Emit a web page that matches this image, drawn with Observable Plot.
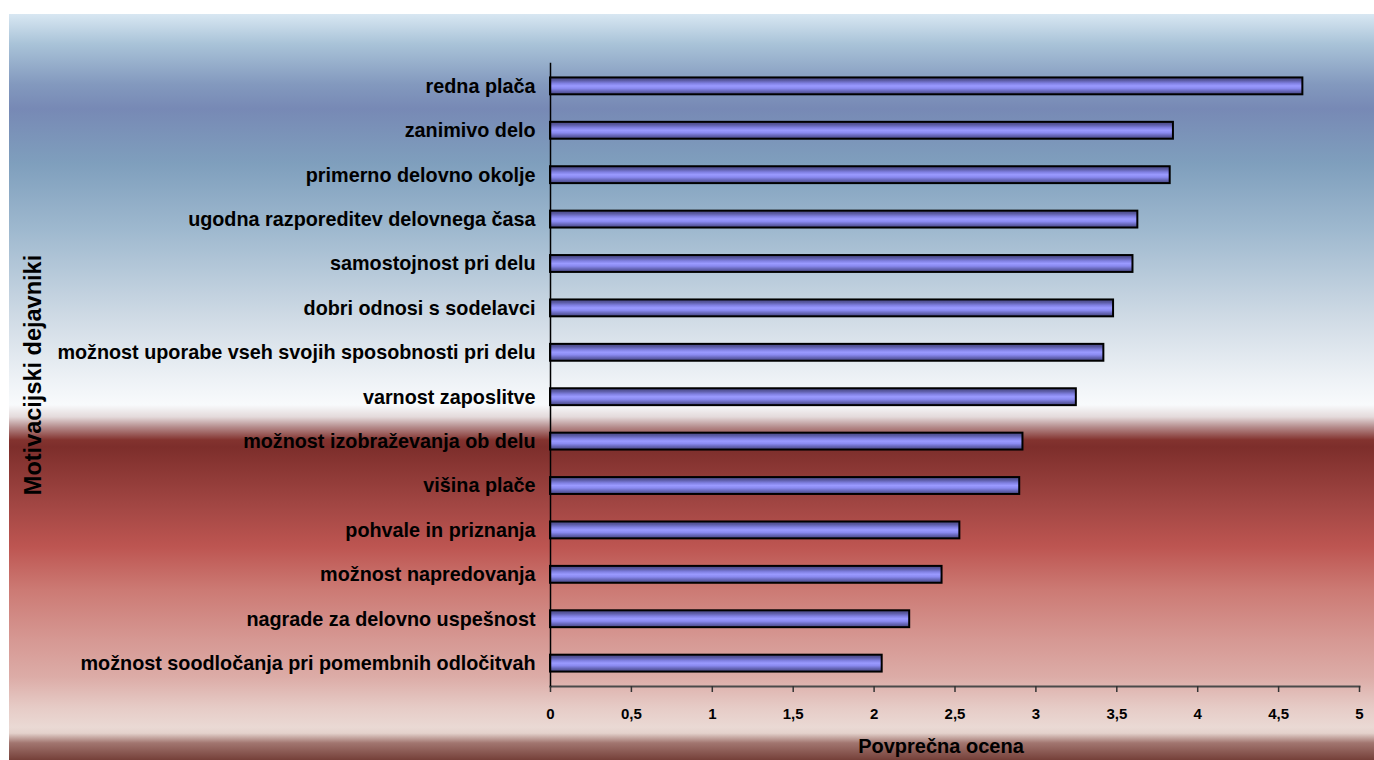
<!DOCTYPE html>
<html>
<head>
<meta charset="utf-8">
<script src="https://cdn.jsdelivr.net/npm/d3@7"></script>
<script src="https://cdn.jsdelivr.net/npm/@observablehq/plot@0.6"></script>
<style>
  html, body { margin: 0; padding: 0; background: #fff; overflow: hidden; }
  #chart svg { display: block; max-width: none; }
  #chart svg text { font-weight: bold; }
</style>
</head>
<body>
<div id="chart"></div>
<script>
// Motivational factors, ordered from the highest average rating down
const factors = [
  "redna plača",
  "zanimivo delo",
  "primerno delovno okolje",
  "ugodna razporeditev delovnega časa",
  "samostojnost pri delu",
  "dobri odnosi s sodelavci",
  "možnost uporabe vseh svojih sposobnosti pri delu",
  "varnost zaposlitve",
  "možnost izobraževanja ob delu",
  "višina plače",
  "pohvale in priznanja",
  "možnost napredovanja",
  "nagrade za delovno uspešnost",
  "možnost soodločanja pri pomembnih odločitvah"
];
const averageScores = [4.65, 3.85, 3.83, 3.63, 3.60, 3.48, 3.42, 3.25, 2.92, 2.90, 2.53, 2.42, 2.22, 2.05];
const scoreTicks = [0, 0.5, 1, 1.5, 2, 2.5, 3, 3.5, 4, 4.5, 5];
const xTitle = "Povprečna ocena";
const yTitle = "Motivacijski dejavniki";

const rows = factors.map((factor, i) => ({factor, score: averageScores[i]}));

const W = 1374, H = 760;
const font = "'Liberation Sans', Arial, Helvetica, sans-serif";

const chart = Plot.plot({
  width: W,
  height: H,
  marginLeft: 550,
  marginRight: 15,
  marginTop: 63,
  marginBottom: 74,
  style: {background: "transparent", fontFamily: font, color: "#000", overflow: "visible"},
  x: {domain: [0, 5]},
  y: {domain: factors, paddingInner: 0.62, paddingOuter: 0.325, round: false},
  marks: [
    Plot.barX(rows, {x: "score", y: "factor", fill: "url(#barShade)", stroke: "#000", strokeWidth: 2}),
    Plot.frame({anchor: "bottom", stroke: "#4a4a4a", strokeWidth: 2}),
    Plot.frame({anchor: "left", stroke: "#000", strokeWidth: 1.5}),
    Plot.axisY({tickSize: 0, tickPadding: 15, fontSize: 19.8, fontWeight: "bold", label: null}),
    Plot.axisX({
      ticks: scoreTicks, tickSize: 6, tickPadding: 16, fontSize: 15, fontWeight: "bold",
      stroke: "#333", strokeWidth: 1.5, label: null,
      tickFormat: d => String(d).replace(".", ",")
    }),
    Plot.text([xTitle], {
      frameAnchor: "bottom", dx: -14, dy: 60, textAnchor: "middle", lineAnchor: "middle",
      fontSize: 20, fontWeight: "bold", fill: "#000"
    }),
    Plot.text([yTitle], {
      frameAnchor: "left", dx: -517, rotate: -90, textAnchor: "middle", lineAnchor: "middle",
      fontSize: 23.5, fontWeight: "bold", fill: "#000"
    })
  ]
});

// Gradients: the banded page backdrop and the shaded bar fill
const svg = d3.select(chart);
const defs = svg.insert("defs", ":first-child");

const bgStops = [
  [0.000, "#d8e7f2"], [0.040, "#a9c3d8"], [0.094, "#8399be"], [0.127, "#7789b5"],
  [0.201, "#7f9fbd"], [0.291, "#9fb9cf"], [0.402, "#cdd9e4"], [0.491, "#eef2f6"],
  [0.524, "#f8fafc"], [0.540, "#e4dadb"], [0.554, "#b48a8a"], [0.571, "#83332f"],
  [0.580, "#7d2e2b"], [0.661, "#a34744"], [0.714, "#bd5551"], [0.772, "#cc7a74"],
  [0.839, "#d69893"], [0.889, "#dcaca7"], [0.929, "#e6cbc6"], [0.956, "#ead9d4"],
  [0.964, "#e4d2cc"], [0.977, "#a27670"], [1.000, "#754039"]
];
const bg = defs.append("linearGradient")
  .attr("id", "pageBand").attr("x1", 0).attr("y1", 0).attr("x2", 0).attr("y2", 1);
bgStops.forEach(([o, c]) => bg.append("stop").attr("offset", o).attr("stop-color", c));

const barStops = [
  [0.00, "#45457e"], [0.18, "#5c5ca6"], [0.35, "#8080e2"], [0.50, "#9a9aff"],
  [0.65, "#8a8af0"], [0.82, "#6565b6"], [1.00, "#45457e"]
];
const bar = defs.append("linearGradient")
  .attr("id", "barShade").attr("x1", 0).attr("y1", 0).attr("x2", 0).attr("y2", 1);
barStops.forEach(([o, c]) => bar.append("stop").attr("offset", o).attr("stop-color", c));

svg.insert("rect", "defs + *")
  .attr("x", 9).attr("y", 14).attr("width", W - 9).attr("height", H - 14)
  .attr("fill", "url(#pageBand)");

document.getElementById("chart").appendChild(chart);
</script>
</body>
</html>
